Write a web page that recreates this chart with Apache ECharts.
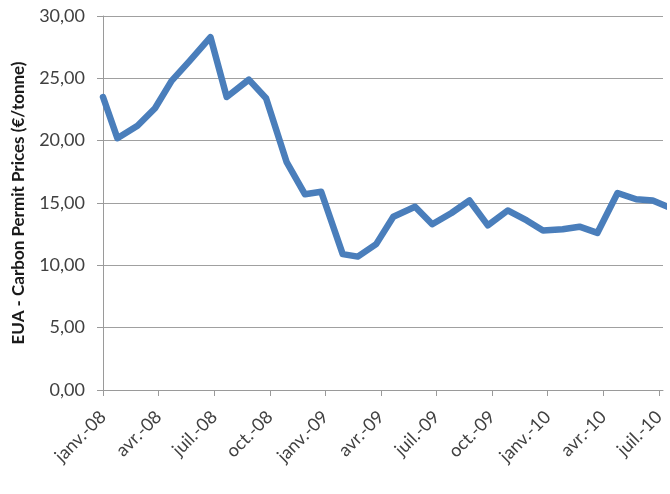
<!DOCTYPE html>
<html>
<head>
<meta charset="utf-8">
<script src="https://cdn.jsdelivr.net/npm/echarts@6/dist/echarts.min.js"></script>
<style>
  html, body { margin: 0; padding: 0; background: #fff; }
  #main { width: 670px; height: 494px; }
</style>
</head>
<body>
<div id="main"></div>
<script>
var priceDates = [
  '2008-01-01', '2008-01-25', '2008-02-26', '2008-03-26', '2008-04-22', '2008-05-22',
  '2008-06-25', '2008-07-22', '2008-08-28', '2008-09-25', '2008-10-29', '2008-11-28',
  '2008-12-25', '2009-01-30', '2009-02-22', '2009-03-24', '2009-04-21', '2009-05-27',
  '2009-06-24', '2009-07-26', '2009-08-25', '2009-09-24', '2009-10-27', '2009-11-27',
  '2009-12-24', '2010-01-26', '2010-02-21', '2010-03-22', '2010-04-24', '2010-05-25',
  '2010-06-21', '2010-07-26'
];
var priceValues = [
  23.5, 20.2, 21.2, 22.6, 24.8, 26.4,
  28.3, 23.5, 24.9, 23.4, 18.3, 15.7,
  15.9, 10.9, 10.7, 11.7, 13.9, 14.7,
  13.3, 14.2, 15.2, 13.2, 14.4, 13.6,
  12.8, 12.9, 13.1, 12.6, 15.8, 15.3,
  15.2, 14.5
];
var tickLabels = ['janv.-08', 'avr.-08', 'juil.-08', 'oct.-08', 'janv.-09', 'avr.-09',
  'juil.-09', 'oct.-09', 'janv.-10', 'avr.-10', 'juil.-10'];

// months since janv.-08
function monthIndex(s) {
  var p = s.split('-');
  var y = +p[0], m = +p[1], d = +p[2];
  var dim = new Date(y, m, 0).getDate();
  return (y - 2008) * 12 + (m - 1) + (d - 1) / dim;
}

var seriesData = priceDates.map(function (d, i) {
  return [monthIndex(d), priceValues[i]];
});
var tickValues = tickLabels.map(function (l, i) { return i * 3; });

var textColor = '#404040';
var font = 'Lato, "Open Sans", sans-serif';

var option = {
  animation: false,
  backgroundColor: '#fff',
  grid: { left: 103, top: 16, right: 7, bottom: 104 },
  xAxis: {
    type: 'value',
    min: 0,
    max: 30.22,
    axisLine: { lineStyle: { color: '#9a9a9a', width: 1 } },
    axisTick: { customValues: tickValues, length: 6, lineStyle: { color: '#9a9a9a' } },
    splitLine: { show: false },
    axisLabel: {
      customValues: tickValues,
      rotate: 45,
      margin: 24,
      color: textColor,
      fontFamily: font,
      fontSize: 18,
      formatter: function (v) { return tickLabels[Math.round(v / 3)] || ''; }
    }
  },
  yAxis: {
    type: 'value',
    min: 0,
    max: 30,
    interval: 5,
    name: 'EUA - Carbon Permit Prices (€/tonne)',
    nameLocation: 'middle',
    nameGap: 76,
    nameTextStyle: { color: '#1a1a1a', fontFamily: font, fontSize: 17, fontWeight: 'bold' },
    axisLine: { show: true, lineStyle: { color: '#9a9a9a', width: 1 } },
    axisTick: { show: true, length: 6, lineStyle: { color: '#9a9a9a' } },
    splitLine: { lineStyle: { color: '#a0a0a0', width: 1.2 } },
    axisLabel: {
      color: textColor,
      fontFamily: font,
      fontSize: 18,
      margin: 18,
      formatter: function (v) { return v.toFixed(2).replace('.', ','); }
    }
  },
  series: [{
    type: 'line',
    data: seriesData,
    clip: false,
    showSymbol: false,
    lineStyle: { color: '#4a7ebb', width: 6.5, join: 'round', cap: 'round' },
    itemStyle: { color: '#4a7ebb' }
  }]
};

var myChart = echarts.init(document.getElementById('main'));
myChart.setOption(option);
</script>
</body>
</html>
